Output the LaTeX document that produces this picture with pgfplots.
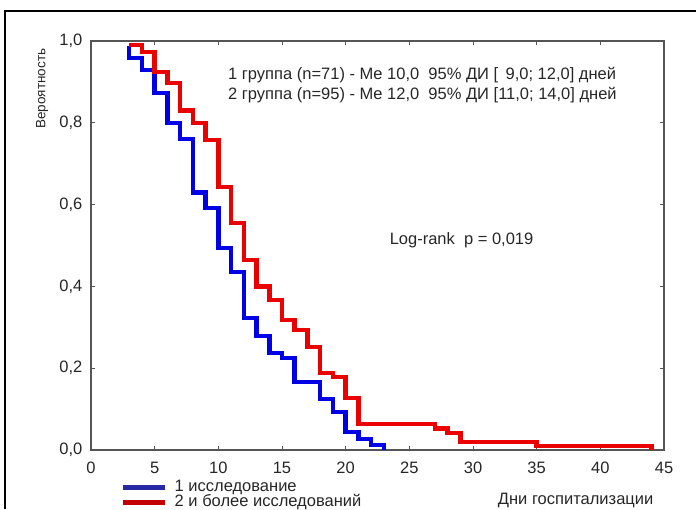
\documentclass[border=0pt]{standalone}
\usepackage{pgfplots}
\pgfplotsset{compat=1.18}
\usepackage{fontspec}
\setmainfont{Liberation Sans}
\definecolor{cblue}{RGB}{0,0,230}
\definecolor{cred}{RGB}{235,0,0}
\definecolor{lblue}{RGB}{40,40,165}
\definecolor{lred}{RGB}{195,0,0}
\definecolor{spine}{RGB}{85,85,85}
\newcommand{\fs}{\fontsize{16.5}{19}\selectfont}
\begin{document}
\fs
\begin{tikzpicture}
\path[use as bounding box] (-91pt,-59pt) rectangle (605pt,450pt);
\begin{axis}[
  scale only axis, width=573pt, height=409pt,
  xmin=0, xmax=45, ymin=0, ymax=1,
  xtick={0,5,...,45}, ytick={0,0.2,0.4,0.6,0.8,1.0},
  tick align=inside, major tick length=4pt,
  axis line style={spine, line width=1.2pt},
  every tick/.style={spine, line width=0.8pt},
  /pgf/number format/assume math mode=true,
  tick label style={font=\fs, color=black!85},
  xticklabel style={yshift=-6pt},
  yticklabel style={xshift=-3pt, /pgf/number format/.cd, use comma, fixed, fixed zerofill, precision=1},
  xlabel={Дни госпитализации},
  xlabel style={at={(axis description cs:1,0)}, anchor=east, xshift=-5pt, yshift=-50pt, font=\fs, color=black!85},
  ylabel={Вероятность},
  ylabel style={at={(axis description cs:-0.0855,0.995)}, anchor=east, font=\fontsize{13.5}{16}\selectfont, color=black!85},
  legend style={at={(axis description cs:0,0)}, anchor=north west, xshift=30pt, yshift=-30pt,
    draw=none, fill=none, font=\fs, row sep=0pt, inner sep=0pt,
    nodes={text height=10pt, text depth=3pt, inner sep=1pt, text=black!85}},
  legend cell align=left,
  /tikz/every odd column/.append style={column sep=6pt},
  legend image code/.code={\draw[#1, line width=4.5pt] (0pt,0pt) -- (42pt,0pt);},
]
\addplot[cblue, line width=4.5pt, const plot, forget plot] coordinates {
 (3,0.988)(3,0.958)(4,0.929)(5,0.873)(6,0.80)(7,0.76)(8,0.63)(9,0.592)(10,0.494)
 (11,0.435)(12,0.323)(13,0.279)(14,0.237)(15,0.225)(16,0.166)(18,0.125)(19,0.093)
 (20,0.044)(21,0.027)(22,0.012)(23,0)
};
\addplot[cred, line width=4.5pt, const plot, forget plot] coordinates {
 (3,0.99)(4,0.973)(5,0.924)(6,0.897)(7,0.83)(8,0.80)(9,0.758)(10,0.643)(11,0.555)
 (12,0.465)(13,0.40)(14,0.367)(15,0.318)(16,0.293)(17,0.252)(18,0.188)(19,0.178)
 (20,0.127)(21,0.064)(27,0.052)(28,0.042)(29,0.02)(35,0.01)(44,0.01)(44,0)
};
\addlegendimage{lblue}
\addlegendentry{1 исследование}
\addlegendimage{lred}
\addlegendentry{2 и более исследований}
\node[anchor=west, align=left, inner sep=0pt, font=\fontsize{16.5}{20}\selectfont, text=black!85] at (axis cs:10.76,0.892)
  {1 группа (n=71) - Me 10,0\ \ 95\% ДИ [\ \,9,0; 12,0] дней\\2 группа (n=95) - Me 12,0\ \ 95\% ДИ [11,0; 14,0] дней};
\node[font=\fs, text=black!85] at (axis cs:29.1,0.513) {Log-rank\ \ p = 0,019};
\end{axis}
\draw[line width=2.5pt] (-86pt,-59pt) -- (-86pt,439pt) -- (605pt,439pt);
\end{tikzpicture}
\end{document}
